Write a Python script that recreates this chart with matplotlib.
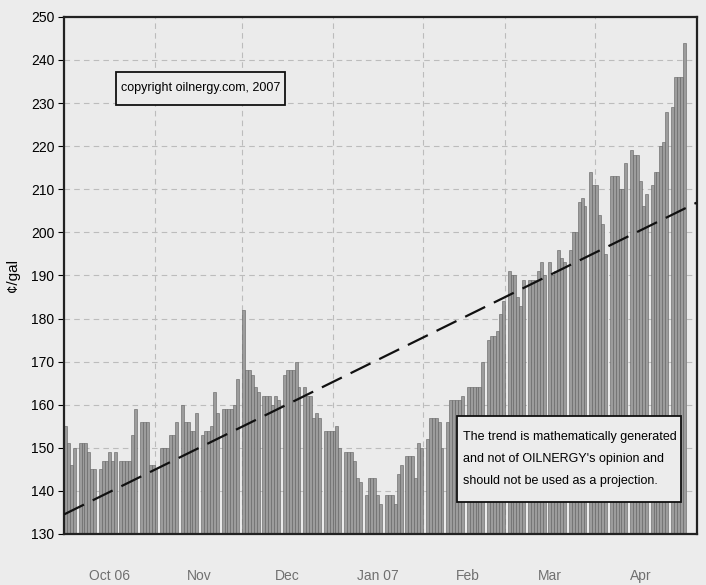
import numpy as np
import pandas as pd
import matplotlib
matplotlib.use('Agg')
import matplotlib.pyplot as plt
import matplotlib.dates as mdates
from matplotlib.patches import Rectangle

plt.rcParams['font.family'] = ['Liberation Sans', 'DejaVu Sans']
plt.rcParams['lines.scale_dashes'] = False

# daily price, cents/gal, from Oct 1 2006; None = no bar that day
prices = [155, 151, 146, 150, None, 151, 151, 151, 149, 145, 145, None,
          145, 147, 147, 149, 147, 149, None, 147, 147, 147, 147, 153, 159, None,
          156, 156, 156, 146, 146, 145, None, 150, 150, 150, 153, 153, 156, None,
          160, 156, 156, 154, 154, 158, None, 153, 154, 154, 155, 163, 158, None,
          159, 159, 159, 159, 160, 166, None, 182, 168, 168, 167, 164, 163, None,
          162, 162, 162, 160, 162, 161, None, 167, 168, 168, 168, 170, 164, None,
          164, 162, 162, 157, 158, 157, None, 154, 154, 154, 154, 155, 150, None,
          149, 149, 149, 147, 143, 142, None, 139, 143, 143, 143, 139, 137, None,
          139, 139, 139, 137, 144, 146, None, 148, 148, 148, 143, 151, 150, None,
          152, 157, 157, 157, 156, 150, None, 156, 161, 161, 161, 161, 162, None,
          164, 164, 164, 164, 164, 170, None, 175, 176, 176, 177, 181, 184, None,
          191, 190, 190, 185, 183, 189, None, 189, 189, 189, 191, 193, 190, None,
          193, 190, 191, 196, 194, 193, None, 196, 200, 200, 207, 208, 206, None,
          214, 211, 211, 204, 202, 195, None, 213, 213, 213, 210, 210, 216, None,
          219, 218, 218, 212, 206, 209, None, 211, 214, 214, 220, 221, 228, None,
          229, 236, 236, 236, 244]
start_date = '2006-10-01'
month_labels = ['Oct 06', 'Nov', 'Dec', 'Jan 07', 'Feb', 'Mar', 'Apr']
y_ticks = list(range(130, 251, 10))
note = "The trend is mathematically generated\nand not of OILNERGY's opinion and\nshould not be used as a projection."

dates = pd.date_range(start_date, periods=len(prices), freq='D')
vals = np.array([np.nan if p is None else p for p in prices], dtype=float)
ok = ~np.isnan(vals)

fig = plt.figure(figsize=(7.06, 5.85), dpi=100)
fig.patch.set_facecolor('#ececec')
ax = fig.add_axes([0.0907, 0.0872, 0.896, 0.884])
ax.set_facecolor('#ebebeb')

ax.bar(dates[ok], vals[ok] - 130, bottom=130, width=1.0, align='center',
       color='#9c9c9c', edgecolor='#606060', linewidth=0.4, zorder=2)

# least squares trend over the whole period
t = mdates.date2num(dates[ok])
k, b = np.polyfit(t, vals[ok], 1)
x0 = mdates.date2num(pd.Timestamp('2006-09-30 12:00'))
x1 = mdates.date2num(pd.Timestamp('2007-05-05 06:00'))
ax.plot([x0, x1], [k * x0 + b, k * x1 + b], color='#111111', lw=1.6,
        dashes=(16, 7), zorder=3)

ax.set_xlim(x0, x1)
ax.set_ylim(130, 250)
ax.set_yticks(y_ticks)
ax.tick_params(axis='y', labelsize=10, length=4, direction='out', pad=3)

month_starts = pd.date_range('2006-11-01', periods=6, freq='MS')
ax.set_xticks(mdates.date2num(month_starts) - 0.5)
ax.set_xticklabels([])
ax.tick_params(axis='x', which='major', length=0)
mids = pd.date_range(start_date, periods=7, freq='MS') + pd.Timedelta(days=15)
ax.set_xticks(mdates.date2num(mids), minor=True)
ax.set_xticklabels(month_labels, minor=True, color='#707070', fontsize=10)
ax.tick_params(axis='x', which='minor', length=0, pad=25)

ax.grid(True, which='major', color='#bcbcbc', linestyle=(0, (4, 3)), lw=0.8, zorder=1)
for s in ax.spines.values():
    s.set_color('#222222')
    s.set_linewidth(1.6)

ax.set_ylabel('¢/gal', fontsize=11, labelpad=8)

# text boxes
ax.add_patch(Rectangle((0.082, 0.830), 0.267, 0.064, transform=ax.transAxes,
                       fc='#ececec', ec='#111111', lw=1.3, zorder=5))
ax.text(0.2155, 0.862, 'copyright oilnergy.com, 2007', transform=ax.transAxes,
        fontsize=9, va='center', ha='center', zorder=6)
ax.add_patch(Rectangle((0.621, 0.062), 0.354, 0.166, transform=ax.transAxes,
                       fc='#ececec', ec='#111111', lw=1.3, zorder=5))
ax.text(0.630, 0.145, note, transform=ax.transAxes, fontsize=9,
        va='center', ha='left', linespacing=2.1, zorder=6)

fig.savefig('out.png', dpi=100, facecolor=fig.get_facecolor())
